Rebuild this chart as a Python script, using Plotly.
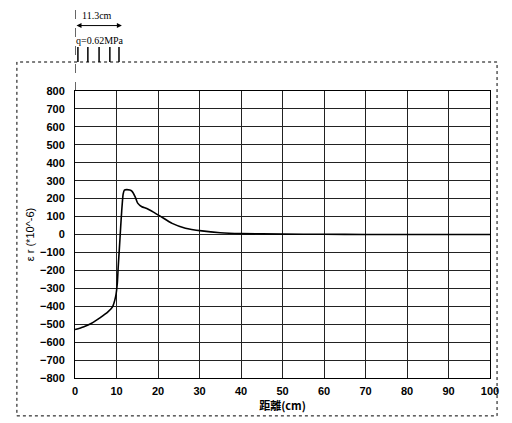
import plotly.graph_objects as go

# Strain distribution along distance
distance_cm = [0, 2, 4, 6, 8, 9, 9.8, 10.2, 10.4, 10.7, 11.0, 11.25, 11.6, 11.9, 12.5, 13.2, 13.7,
               14.5, 15.1, 16.1, 17.3, 18.9, 20.7, 23.4, 26.6, 30.6, 35, 40, 50, 60, 70, 80, 90, 100]
strain = [-530, -515, -495, -465, -430, -405, -345, -272, -185, -75, 40, 130, 225, 248, 250, 248, 242,
          210, 175, 155, 145, 125, 100, 62, 35, 20, 10, 5, 2, 1, 0, 0, 0, 0]

x_ticks = [0, 10, 20, 30, 40, 50, 60, 70, 80, 90, 100]
y_ticks = list(range(-800, 801, 100))

load_width_cm = 11.3
load_label = "q=0.62MPa"
width_label = "11.3cm"
x_title = "距離(cm)"
y_title = "ε r (*10^-6)"

fig = go.Figure()
fig.add_trace(go.Scatter(x=distance_cm, y=strain, mode="lines",
                         line=dict(color="black", width=1.6, shape="spline", smoothing=0.5),
                         showlegend=False, hoverinfo="skip"))

tickfont = dict(size=11, family="Liberation Sans, Arial", color="black", weight="bold")

fig.update_layout(
    width=504, height=415,
    margin=dict(l=67, r=22, t=83, b=45, autoexpand=False),
    paper_bgcolor="white", plot_bgcolor="white",
    font=dict(family="Liberation Sans, Arial, sans-serif", size=11, color="black"),
    xaxis=dict(range=[0, 100], tickvals=x_ticks, showgrid=True, gridcolor="#222222", gridwidth=1,
               zeroline=False, showline=True, linecolor="black", linewidth=1, mirror=True,
               ticks="", tickfont=tickfont, ticklabelstandoff=3,
               title=dict(text=x_title, font=dict(family="Noto Sans CJK JP", size=11, color="black",
                                                  weight="bold"),
                          standoff=3)),
    yaxis=dict(range=[-800, 800], tickvals=y_ticks, showgrid=True, gridcolor="#222222", gridwidth=1,
               zeroline=False, showline=True, linecolor="black", linewidth=1, mirror=True,
               ticks="", tickfont=tickfont, ticklabelstandoff=7,
               title=dict(text=y_title, font=dict(family="Liberation Sans, Arial", size=11, color="black"),
                          standoff=3)),
)

shapes = []
# outer dotted frame
shapes.append(dict(type="rect", xref="paper", yref="paper", x0=-0.14, x1=1.017, y0=-0.132, y1=1.101,
                   line=dict(color="black", width=1, dash="dot")))
# dashed line at x=0 for load start
shapes.append(dict(type="line", xref="x", yref="paper", x0=0, x1=0, y0=1.0, y1=1.282,
                   line=dict(color="black", width=1.2, dash="dash")))
# load bars
for xb in [0.7, 3.1, 5.8, 8.4, 10.6]:
    shapes.append(dict(type="line", xref="x", yref="paper", x0=xb, x1=xb, y0=1.101, y1=1.153,
                       line=dict(color="black", width=1.5)))
fig.update_layout(shapes=shapes)

# double arrow for load width
fig.add_annotation(x=load_width_cm, y=1.228, ax=0, ay=0, xref="x", yref="paper", axref="x", ayref="pixel",
                   text="", showarrow=True, arrowhead=2, arrowside="end+start", arrowwidth=1, arrowcolor="black")
fig.add_annotation(x=load_width_cm / 2 - 0.3, y=1.289, xref="x", yref="paper", text=width_label,
                   showarrow=False, font=dict(size=10, family="Liberation Serif", color="black"),
                   yanchor="top")
fig.add_annotation(x=load_width_cm / 2 + 0.3, y=1.15, xref="x", yref="paper", text=load_label, showarrow=False,
                   font=dict(size=10, family="Liberation Serif", color="black"), yanchor="bottom")

fig.write_html("out.html")
